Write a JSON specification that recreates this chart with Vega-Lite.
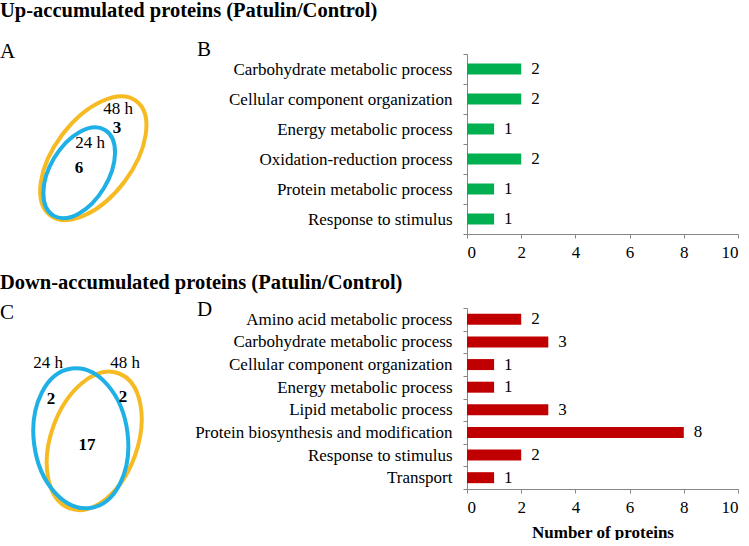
{
  "$schema": "https://vega.github.io/schema/vega-lite/v6.json",
  "background": "white",
  "padding": {"left": 0, "top": 0, "right": 0, "bottom": 0},
  "bounds": "flush",
  "columns": 2,
  "spacing": {"row": 74, "column": 267},
  "datasets": {
    "up": [
      {"category": "Carbohydrate metabolic process", "count": 2},
      {"category": "Cellular component organization", "count": 2},
      {"category": "Energy metabolic process", "count": 1},
      {"category": "Oxidation-reduction process", "count": 2},
      {"category": "Protein metabolic process", "count": 1},
      {"category": "Response to stimulus", "count": 1}
    ],
    "down": [
      {"category": "Amino acid metabolic process", "count": 2},
      {"category": "Carbohydrate metabolic process", "count": 3},
      {"category": "Cellular component organization", "count": 1},
      {"category": "Energy metabolic process", "count": 1},
      {"category": "Lipid metabolic process", "count": 3},
      {"category": "Protein biosynthesis and modification", "count": 8},
      {"category": "Response to stimulus", "count": 2},
      {"category": "Transport", "count": 1}
    ],
    "vennA_sets": [
      {"set": "48 h", "cx": 4.665, "cy": 4.21},
      {"set": "24 h", "cx": 3.96, "cy": 3.40}
    ],
    "vennA_labels": [
      {"label": "48 h", "kind": "set", "x": 5.9, "y": 6.93},
      {"label": "3", "kind": "count", "x": 5.85, "y": 5.9},
      {"label": "24 h", "kind": "set", "x": 4.5, "y": 5.06},
      {"label": "6", "kind": "count", "x": 3.95, "y": 3.67}
    ],
    "vennC_sets": [
      {"set": "48 h", "cx": 4.71, "cy": 2.66},
      {"set": "24 h", "cx": 4.04, "cy": 2.80}
    ],
    "vennC_labels": [
      {"label": "24 h", "kind": "set", "x": 2.4, "y": 6.96},
      {"label": "48 h", "kind": "set", "x": 6.25, "y": 6.96},
      {"label": "2", "kind": "count", "x": 2.55, "y": 4.97},
      {"label": "2", "kind": "count", "x": 6.15, "y": 5.08},
      {"label": "17", "kind": "count", "x": 4.35, "y": 2.43}
    ]
  },
  "config": {
    "view": {"stroke": null},
    "font": "Liberation Serif",
    "axis": {
      "domainColor": "#868686",
      "tickColor": "#868686",
      "tickSize": 4,
      "grid": false,
      "labelFont": "Liberation Serif",
      "labelFontSize": 17,
      "labelColor": "black",
      "titleFont": "Liberation Serif",
      "titleFontSize": 17,
      "titleColor": "black",
      "titleFontWeight": "bold"
    },
    "title": {
      "font": "Liberation Serif",
      "color": "black",
      "subtitleFont": "Liberation Serif",
      "subtitleColor": "black"
    }
  },
  "concat": [
    {
      "width": 200,
      "height": 180,
      "title": {
        "text": "Up-accumulated proteins (Patulin/Control)",
        "subtitle": "A",
        "anchor": "start",
        "frame": "group",
        "fontSize": 20.5,
        "fontWeight": "bold",
        "subtitleFontSize": 21,
        "subtitleFontWeight": "normal",
        "subtitlePadding": 20,
        "dx": 0,
        "offset": -8
      },
      "layer": [
        {
          "data": {"name": "vennA_sets"},
          "transform": [{"filter": "datum.set === '48 h'"}],
          "mark": {
            "type": "point",
            "shape": "M0,-1C0.301,-1,0.545,-0.552,0.545,0C0.545,0.552,0.301,1,0,1C-0.301,1,-0.545,0.552,-0.545,0C-0.545,-0.552,-0.301,-1,0,-1Z",
            "size": 20449,
            "angle": 37,
            "filled": false,
            "stroke": "#f6bb22",
            "strokeWidth": 4,
            "opacity": 1
          },
          "encoding": {
            "x": {"field": "cx", "type": "quantitative", "scale": {"domain": [0, 10]}, "axis": null},
            "y": {"field": "cy", "type": "quantitative", "scale": {"domain": [0, 10]}, "axis": null}
          }
        },
        {
          "data": {"name": "vennA_sets"},
          "transform": [{"filter": "datum.set === '24 h'"}],
          "mark": {
            "type": "point",
            "shape": "M0,-1C0.321,-1,0.582,-0.552,0.582,0C0.582,0.552,0.321,1,0,1C-0.321,1,-0.582,0.552,-0.582,0C-0.582,-0.552,-0.321,-1,0,-1Z",
            "size": 10000,
            "angle": 31,
            "filled": false,
            "stroke": "#1fb0e6",
            "strokeWidth": 4,
            "opacity": 1
          },
          "encoding": {
            "x": {"field": "cx", "type": "quantitative", "scale": {"domain": [0, 10]}, "axis": null},
            "y": {"field": "cy", "type": "quantitative", "scale": {"domain": [0, 10]}, "axis": null}
          }
        },
        {
          "data": {"name": "vennA_labels"},
          "transform": [{"filter": "datum.kind === 'set'"}],
          "mark": {"type": "text", "fontSize": 17, "color": "black", "baseline": "middle"},
          "encoding": {
            "x": {"field": "x", "type": "quantitative", "scale": {"domain": [0, 10]}, "axis": null},
            "y": {"field": "y", "type": "quantitative", "scale": {"domain": [0, 10]}, "axis": null},
            "text": {"field": "label"}
          }
        },
        {
          "data": {"name": "vennA_labels"},
          "transform": [{"filter": "datum.kind === 'count'"}],
          "mark": {"type": "text", "fontSize": 17, "fontWeight": "bold", "color": "black", "baseline": "middle"},
          "encoding": {
            "x": {"field": "x", "type": "quantitative", "scale": {"domain": [0, 10]}, "axis": null},
            "y": {"field": "y", "type": "quantitative", "scale": {"domain": [0, 10]}, "axis": null},
            "text": {"field": "label"}
          }
        }
      ]
    },
    {
      "width": 271,
      "height": 180,
      "title": {
        "text": "B",
        "anchor": "start",
        "frame": "group",
        "fontSize": 21,
        "fontWeight": "normal",
        "dx": -270,
        "offset": -15
      },
      "data": {"name": "up"},
      "encoding": {
        "y": {
          "field": "category", "type": "nominal", "sort": null,
          "scale": {"paddingInner": 0, "paddingOuter": 0},
          "axis": {"title": null, "tickBand": "extent", "labelPadding": 11, "labelLimit": 400}
        },
        "x": {
          "field": "count", "type": "quantitative",
          "scale": {"domain": [0, 10]},
          "axis": {"title": null, "values": [0, 2, 4, 6, 8, 10], "labelPadding": 6}
        }
      },
      "layer": [
        {"mark": {"type": "bar", "color": "#00b050", "size": 11}},
        {
          "mark": {"type": "text", "align": "left", "dx": 10, "fontSize": 17, "color": "black", "baseline": "middle"},
          "encoding": {"text": {"field": "count", "type": "quantitative"}}
        }
      ]
    },
    {
      "width": 200,
      "height": 181,
      "title": {
        "text": "Down-accumulated proteins (Patulin/Control)",
        "subtitle": "C",
        "anchor": "start",
        "frame": "group",
        "fontSize": 20.5,
        "fontWeight": "bold",
        "subtitleFontSize": 21,
        "subtitleFontWeight": "normal",
        "subtitlePadding": 9,
        "dx": 0,
        "offset": -15
      },
      "layer": [
        {
          "data": {"name": "vennC_sets"},
          "transform": [{"filter": "datum.set === '48 h'"}],
          "mark": {
            "type": "point",
            "shape": "M0,-1C0.334,-1,0.604,-0.552,0.604,0C0.604,0.552,0.334,1,0,1C-0.334,1,-0.604,0.552,-0.604,0C-0.604,-0.552,-0.334,-1,0,-1Z",
            "size": 20621,
            "angle": 19.7,
            "filled": false,
            "stroke": "#f6bb22",
            "strokeWidth": 4,
            "opacity": 1
          },
          "encoding": {
            "x": {"field": "cx", "type": "quantitative", "scale": {"domain": [0, 10]}, "axis": null},
            "y": {"field": "cy", "type": "quantitative", "scale": {"domain": [0, 10]}, "axis": null}
          }
        },
        {
          "data": {"name": "vennC_sets"},
          "transform": [{"filter": "datum.set === '24 h'"}],
          "mark": {
            "type": "point",
            "shape": "M0,-1C0.369,-1,0.669,-0.552,0.669,0C0.669,0.552,0.369,1,0,1C-0.369,1,-0.669,0.552,-0.669,0C-0.669,-0.552,-0.369,-1,0,-1Z",
            "size": 19768,
            "angle": 352.6,
            "filled": false,
            "stroke": "#1fb0e6",
            "strokeWidth": 4,
            "opacity": 1
          },
          "encoding": {
            "x": {"field": "cx", "type": "quantitative", "scale": {"domain": [0, 10]}, "axis": null},
            "y": {"field": "cy", "type": "quantitative", "scale": {"domain": [0, 10]}, "axis": null}
          }
        },
        {
          "data": {"name": "vennC_labels"},
          "transform": [{"filter": "datum.kind === 'set'"}],
          "mark": {"type": "text", "fontSize": 17, "color": "black", "baseline": "middle"},
          "encoding": {
            "x": {"field": "x", "type": "quantitative", "scale": {"domain": [0, 10]}, "axis": null},
            "y": {"field": "y", "type": "quantitative", "scale": {"domain": [0, 10]}, "axis": null},
            "text": {"field": "label"}
          }
        },
        {
          "data": {"name": "vennC_labels"},
          "transform": [{"filter": "datum.kind === 'count'"}],
          "mark": {"type": "text", "fontSize": 17, "fontWeight": "bold", "color": "black", "baseline": "middle"},
          "encoding": {
            "x": {"field": "x", "type": "quantitative", "scale": {"domain": [0, 10]}, "axis": null},
            "y": {"field": "y", "type": "quantitative", "scale": {"domain": [0, 10]}, "axis": null},
            "text": {"field": "label"}
          }
        }
      ]
    },
    {
      "width": 271,
      "height": 181,
      "title": {
        "text": "D",
        "anchor": "start",
        "frame": "group",
        "fontSize": 21,
        "fontWeight": "normal",
        "dx": -270,
        "offset": -21
      },
      "data": {"name": "down"},
      "encoding": {
        "y": {
          "field": "category", "type": "nominal", "sort": null,
          "scale": {"paddingInner": 0, "paddingOuter": 0},
          "axis": {"title": null, "tickBand": "extent", "labelPadding": 11, "labelLimit": 400}
        },
        "x": {
          "field": "count", "type": "quantitative",
          "scale": {"domain": [0, 10]},
          "axis": {"title": "Number of proteins", "values": [0, 2, 4, 6, 8, 10], "labelPadding": 6, "titlePadding": 9}
        }
      },
      "layer": [
        {"mark": {"type": "bar", "color": "#c00000", "size": 11}},
        {
          "mark": {"type": "text", "align": "left", "dx": 10, "fontSize": 17, "color": "black", "baseline": "middle"},
          "encoding": {"text": {"field": "count", "type": "quantitative"}}
        }
      ]
    }
  ]
}
